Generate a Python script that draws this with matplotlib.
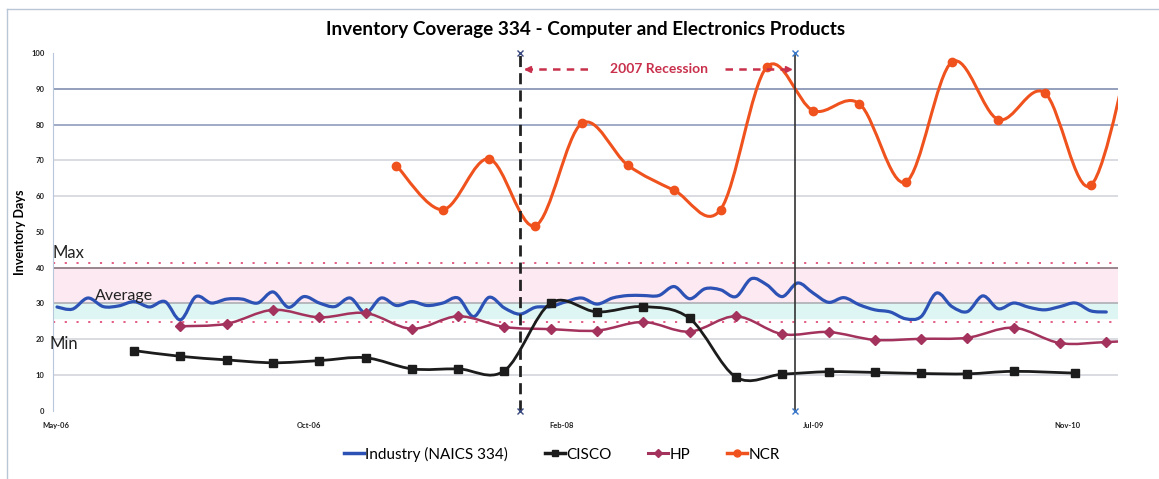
import numpy as np
import matplotlib.pyplot as plt
from matplotlib.path import Path
from matplotlib.patches import PathPatch
from matplotlib.lines import Line2D

plt.rcParams['font.family'] = ['Lato', 'DejaVu Sans']

# x is months counted from the first industry reading (May-06)
industry_months = list(range(69))
industry = [29.0, 28.4, 31.5, 29.1, 29.3, 30.5, 29.0, 30.5, 25.4, 31.9,
            30.1, 31.2, 31.2, 30.1, 33.2, 28.9, 31.9, 30.1, 29.1, 31.5,
            27.3, 31.5, 29.4, 30.5, 29.4, 30.1, 31.5, 26.3, 31.7, 28.7,
            27.0, 28.9, 29.1, 30.5, 31.5, 29.8, 31.5, 32.2, 32.2, 32.2,
            34.7, 31.3, 34.1, 33.8, 31.9, 36.9, 35.2, 31.9, 35.7, 32.9,
            30.3, 31.6, 29.6, 28.2, 27.6, 25.7, 26.3, 32.9, 29.1, 27.7,
            32.1, 28.5, 30.1, 28.9, 28.2, 29.1, 30.1, 27.9, 27.6]

cisco_months = [5, 8, 11, 14, 17, 20, 23, 26, 29, 32, 35, 38, 41, 44, 47,
                50, 53, 56, 59, 62, 66]
cisco = [16.8, 15.2, 14.2, 13.4, 14.0, 14.8, 11.7, 11.7, 11.2, 30.1, 27.6,
         29.1, 25.8, 9.4, 10.2, 10.9, 10.7, 10.4, 10.3, 11.0, 10.5]

hp_months = list(range(8, 72, 3))
hp = [23.6, 24.3, 28.2, 26.1, 27.3, 22.9, 26.4, 23.4, 22.8, 22.4, 24.8,
      22.1, 26.4, 21.4, 22.0, 19.8, 20.1, 20.4, 23.2, 18.9, 19.2, 19.8]

ncr_months = list(range(22, 71, 3))
ncr = [68.5, 56.2, 70.4, 51.7, 80.3, 68.6, 61.6, 56.2, 96.1, 83.9, 85.8,
       63.9, 97.5, 81.4, 88.9, 63.0, 110.0]

tick_pos = [-0.1, 16.3, 32.7, 49.0, 65.5]
tick_labels = ['May-06', 'Oct-06', 'Feb-08', 'Jul-09', 'Nov-10']

grid_vals = [10, 20, 30, 40, 60, 70, 80, 90]
grid_cols = ['#cfd2d8', '#cfd2d8', '#a9a9b0', '#7d6870', '#cfd2d8', '#cfd2d8',
             '#8595b5', '#7585aa']

recession_start = 30.0
recession_end = 47.8


def smooth_path(x, y):
    # excel style smoothed line as bezier segments
    pts = np.column_stack([x, y]).astype(float)
    n = len(pts)
    verts = [pts[0]]
    codes = [Path.MOVETO]
    for i in range(n - 1):
        p0 = pts[max(i - 1, 0)]
        p1 = pts[i]
        p2 = pts[i + 1]
        p3 = pts[min(i + 2, n - 1)]
        verts += [p1 + (p2 - p0) / 6, p2 - (p3 - p1) / 6, p2]
        codes += [Path.CURVE4] * 3
    return Path(verts, codes)


def draw_series(ax, x, y, color, lw, marker=None, ms=6, z=5):
    ax.add_patch(PathPatch(smooth_path(x, y), fill=False, edgecolor=color,
                           lw=lw, capstyle='round', joinstyle='round', zorder=z))
    if marker:
        ax.plot(x, y, ls='none', marker=marker, ms=ms, color=color, zorder=z + 1)


fig = plt.figure(figsize=(11.59, 4.79), dpi=100)
ax = fig.add_axes([53 / 1159, 1 - 410.7 / 479, 1065 / 1159, 357.7 / 479])
ax.set_xlim(-0.26, 68.76)
ax.set_ylim(0, 100)

for s in ['top', 'right', 'bottom']:
    ax.spines[s].set_visible(False)
ax.spines['left'].set_color('#b8c8dc')
ax.spines['left'].set_linewidth(0.8)

ax.axhspan(30, 40, color='#fde9f1', zorder=0)
ax.axhspan(26, 30, color='#def6f3', zorder=0)
for v, c in zip(grid_vals, grid_cols):
    ax.axhline(v, color=c, lw=1.1, zorder=1)
ax.axhline(41.3, color='#e0507a', lw=1.3, ls=(0, (1.2, 5.3)), zorder=2)
ax.axhline(24.8, color='#e0507a', lw=1.3, ls=(0, (1.2, 5.3)), zorder=2)

ax.set_yticks(range(0, 101, 10))
ax.set_xticks(tick_pos)
ax.set_xticklabels(tick_labels)
ax.tick_params(axis='both', length=0, labelsize=5.5, labelcolor='#222222')
ax.tick_params(axis='y', pad=6)
ax.tick_params(axis='x', pad=8)
for lab in ax.get_xticklabels() + ax.get_yticklabels():
    lab.set_fontweight('bold')
ax.set_ylabel('Inventory Days', fontsize=9, fontweight='bold', labelpad=4)

draw_series(ax, industry_months, industry, '#2d52b5', 2.3, z=5)
draw_series(ax, hp_months, hp, '#a3325c', 1.8, marker='D', ms=5, z=6)
draw_series(ax, cisco_months, cisco, '#1c1c1c', 2.0, marker='s', ms=6, z=7)
draw_series(ax, ncr_months, ncr, '#f0521e', 2.2, marker='o', ms=6, z=8)

ax.plot([recession_start] * 2, [0, 100], color='#222222', lw=2, ls=(0, (4, 2.2)),
        marker='x', ms=5, mec='#3a4a80', clip_on=False, zorder=9)
ax.plot([recession_end] * 2, [0, 100], color='#333333', lw=1.2,
        marker='x', ms=5, mec='#3a78c8', clip_on=False, zorder=9)

red = '#c8304c'
ax.plot([30.3, 34.7], [95.4, 95.4], color=red, lw=1.8, ls=(0, (3, 2.5)), zorder=10)
ax.plot([30.5], [95.4], marker='<', color=red, ms=5, zorder=10)
ax.plot([43.3, 47.6], [95.4, 95.4], color=red, lw=1.8, ls=(0, (3, 2.5)), zorder=10)
ax.plot([47.4], [95.4], marker='>', color=red, ms=5, zorder=10)
ax.text(39.0, 95.4, '2007 Recession', color=red, fontsize=10, fontweight='bold',
        ha='center', va='center', zorder=10)

ax.text(-0.3, 44, 'Max', fontsize=12, color='#222222', va='center', zorder=10)
ax.text(2.46, 32.2, 'Average', fontsize=11.5, color='#222222', va='center', zorder=10)
ax.text(-0.5, 18.6, 'Min', fontsize=12, color='#222222', va='center', zorder=10)

fig.text(586 / 1159, 1 - 30 / 479,
         'Inventory Coverage 334 - Computer and Electronics Products',
         ha='center', va='center', fontsize=13.6, fontweight='bold')

handles = [Line2D([], [], color='#2d52b5', lw=2.5),
           Line2D([], [], color='#1c1c1c', lw=2.5, marker='s', ms=5),
           Line2D([], [], color='#a3325c', lw=2.2, marker='D', ms=4),
           Line2D([], [], color='#f0521e', lw=2.5, marker='o', ms=5)]
labels = ['Industry (NAICS 334)', 'CISCO', 'HP', 'NCR']
fig.legend(handles, labels, loc='center', bbox_to_anchor=(562 / 1159, 1 - 454 / 479),
           ncol=4, frameon=False, fontsize=11, handlelength=1.3,
           handletextpad=0.1, columnspacing=2.4)

fig.add_artist(Line2D([7 / 1159, 1], [1 - 9 / 479] * 2, transform=fig.transFigure,
                      color='#b9c6d6', lw=1))
fig.add_artist(Line2D([7 / 1159] * 2, [0, 1 - 9 / 479], transform=fig.transFigure,
                      color='#b9c6d6', lw=1))

fig.savefig('out.png', dpi=100)
